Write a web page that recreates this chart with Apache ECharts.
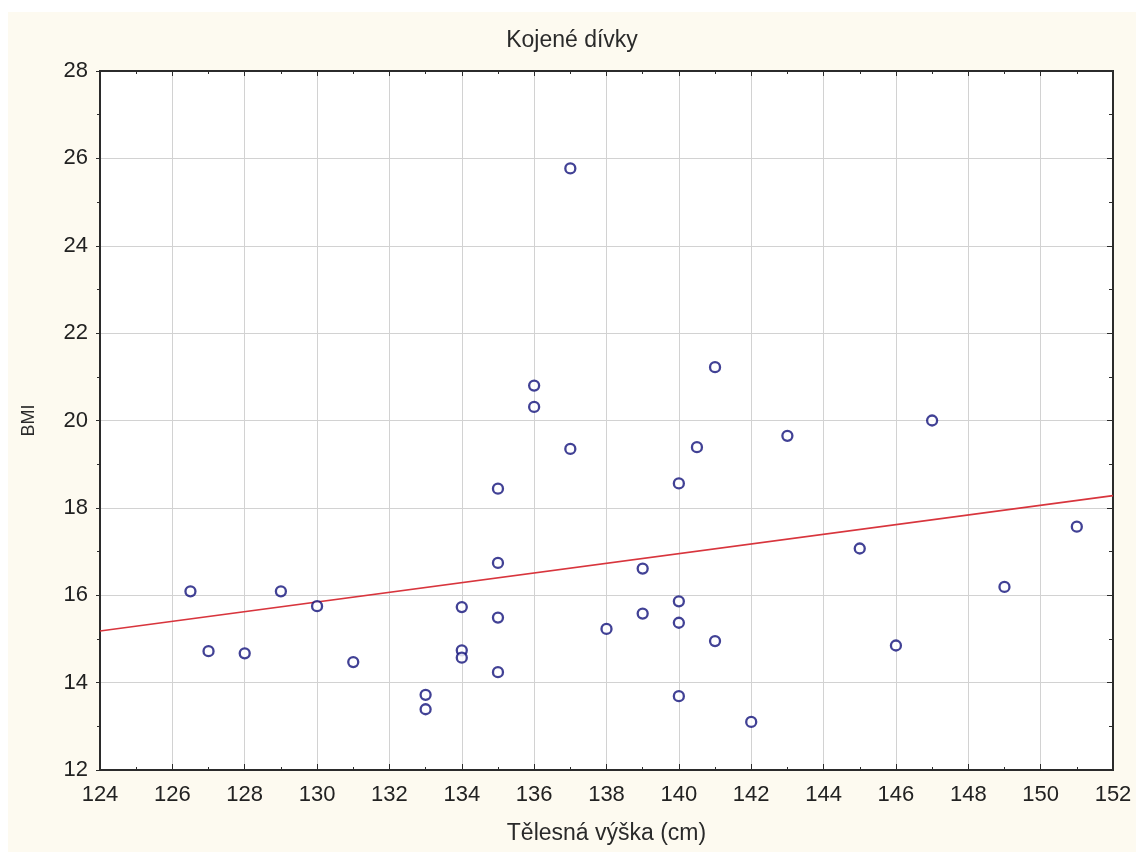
<!DOCTYPE html>
<html>
<head>
<meta charset="utf-8">
<script src="https://cdn.jsdelivr.net/npm/echarts@6/dist/echarts.min.js"></script>
<style>
  html, body { margin: 0; padding: 0; background: #ffffff; }
  #chart { position: absolute; left: 8px; top: 12px; width: 1128px; height: 840px; }
</style>
</head>
<body>
<div id="chart"></div>
<script>
// Height (cm) and BMI of each girl
const heights = [126.5, 127, 128, 129, 130, 131, 133, 133, 134, 134, 134,
  135, 135, 135, 135, 136, 136, 137, 137, 138, 139, 139,
  140, 140, 140, 140, 140.5, 141, 141, 142, 143, 145, 146, 147, 149, 151];
const bmi = [16.09, 14.72, 14.67, 16.09, 15.75, 14.47, 13.72, 13.39, 15.73, 14.74, 14.57,
  18.44, 16.74, 15.49, 14.24, 20.80, 20.31, 25.77, 19.35, 15.23, 16.61, 15.58,
  18.56, 15.86, 15.37, 13.69, 19.39, 21.22, 14.95, 13.10, 19.65, 17.07, 14.85, 20.00, 16.19, 17.57];

const titleText = 'Kojené dívky';
const xName = 'Tělesná výška (cm)';
const yName = 'BMI';
const xRange = [124, 152];
const yRange = [12, 28];

// Least-squares line through the points
const n = heights.length;
const mx = heights.reduce((s, v) => s + v, 0) / n;
const my = bmi.reduce((s, v) => s + v, 0) / n;
let sxy = 0, sxx = 0;
for (let i = 0; i < n; i++) {
  sxy += (heights[i] - mx) * (bmi[i] - my);
  sxx += (heights[i] - mx) * (heights[i] - mx);
}
const slope = sxy / sxx;
const intercept = my - slope * mx;
const fitLine = xRange.map(x => [x, intercept + slope * x]);

const points = heights.map((h, i) => [h, bmi[i]]);

const font = 'Liberation Sans, Arial, sans-serif';
const axisCol = '#2b2b2b';

const chart = echarts.init(document.getElementById('chart'));
chart.setOption({
  backgroundColor: '#fdfaf0',
  animation: false,
  title: {
    text: titleText,
    left: 'center',
    top: 17,
    padding: 0,
    textStyle: { fontFamily: font, fontSize: 23, fontWeight: 'normal', color: '#2a2a2a' }
  },
  grid: {
    left: 92, top: 59, right: 23, bottom: 82,
    show: true, backgroundColor: '#ffffff', borderColor: axisCol, borderWidth: 2
  },
  xAxis: [{
    type: 'value', min: xRange[0], max: xRange[1], interval: 2,
    name: xName, nameLocation: 'middle', nameGap: 52,
    nameTextStyle: { fontFamily: font, fontSize: 23, color: '#2a2a2a' },
    axisLine: { show: true, onZero: false, lineStyle: { color: axisCol, width: 2 } },
    axisTick: { show: true, inside: true, length: 6, lineStyle: { color: axisCol } },
    minorTick: { show: true, splitNumber: 2, length: 3, lineStyle: { color: axisCol } },
    axisLabel: { fontFamily: font, fontSize: 22, color: '#222', margin: 14 },
    splitLine: { show: true, lineStyle: { color: '#d2d2d2', width: 1 } }
  }, {
    type: 'value', position: 'top', min: xRange[0], max: xRange[1], interval: 2,
    axisLine: { show: true, onZero: false, lineStyle: { color: axisCol, width: 2 } },
    axisTick: { show: true, inside: true, length: 5, lineStyle: { color: axisCol } },
    minorTick: { show: true, splitNumber: 2, length: 3, lineStyle: { color: axisCol } },
    axisLabel: { show: false },
    splitLine: { show: false }
  }],
  yAxis: [{
    type: 'value', min: yRange[0], max: yRange[1], interval: 2,
    name: yName, nameLocation: 'middle', nameGap: 62,
    nameTextStyle: { fontFamily: font, fontSize: 18, color: '#2a2a2a' },
    axisLine: { show: true, onZero: false, lineStyle: { color: axisCol, width: 2 } },
    axisTick: { show: true, inside: false, length: 4, lineStyle: { color: axisCol } },
    minorTick: { show: true, splitNumber: 2, length: 3, lineStyle: { color: axisCol } },
    axisLabel: { fontFamily: font, fontSize: 22, color: '#222', margin: 12 },
    splitLine: { show: true, lineStyle: { color: '#d2d2d2', width: 1 } }
  }, {
    type: 'value', position: 'right', min: yRange[0], max: yRange[1], interval: 2,
    axisLine: { show: true, onZero: false, lineStyle: { color: axisCol, width: 2 } },
    axisTick: { show: true, inside: true, length: 6, lineStyle: { color: axisCol } },
    minorTick: { show: true, splitNumber: 2, length: 4, lineStyle: { color: axisCol } },
    axisLabel: { show: false },
    splitLine: { show: false }
  }],
  series: [{
    type: 'line',
    data: fitLine,
    xAxisIndex: 0, yAxisIndex: 0,
    showSymbol: false,
    lineStyle: { color: '#d8353d', width: 1.6 },
    silent: true,
    z: 2
  }, {
    type: 'scatter',
    data: points,
    xAxisIndex: 0, yAxisIndex: 0,
    symbol: 'circle',
    symbolSize: 10,
    itemStyle: { color: '#ffffff', borderColor: '#12127a', borderWidth: 2.3 },
    z: 3
  }]
});
</script>
</body>
</html>
